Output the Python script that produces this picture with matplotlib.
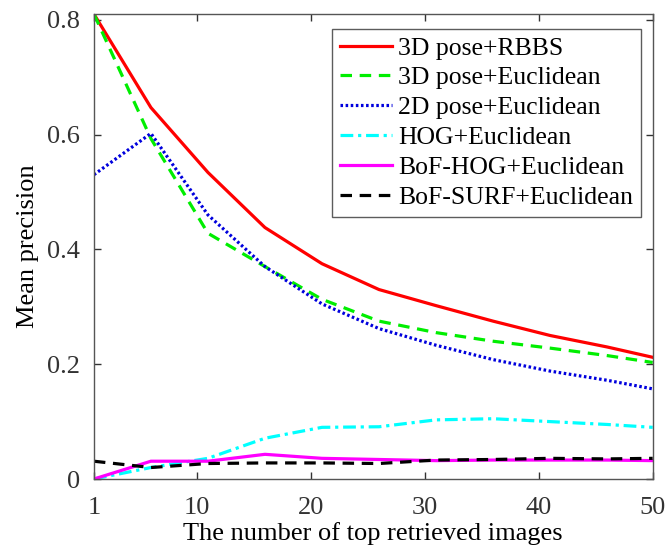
import matplotlib
matplotlib.use("Agg")
import matplotlib.pyplot as plt

x = [1, 6, 11, 16, 21, 26, 31, 36, 41, 46, 50]
rbbs3d = [0.810, 0.647, 0.534, 0.438, 0.375, 0.330, 0.302, 0.275, 0.250, 0.230, 0.212]
euc3d = [0.810, 0.593, 0.428, 0.370, 0.313, 0.275, 0.255, 0.240, 0.228, 0.215, 0.203]
euc2d = [0.530, 0.602, 0.460, 0.370, 0.305, 0.262, 0.233, 0.208, 0.188, 0.172, 0.157]
hog = [0.000, 0.020, 0.036, 0.071, 0.090, 0.091, 0.103, 0.105, 0.100, 0.095, 0.090]
bofhog = [0.000, 0.031, 0.031, 0.043, 0.036, 0.034, 0.032, 0.033, 0.033, 0.033, 0.032]
bofsurf = [0.031, 0.020, 0.027, 0.028, 0.028, 0.027, 0.033, 0.034, 0.036, 0.035, 0.036]

labels = ["3D pose+RBBS", "3D pose+Euclidean", "2D pose+Euclidean",
          "HOG+Euclidean", "BoF-HOG+Euclidean", "BoF-SURF+Euclidean"]
xticks = [1, 10, 20, 30, 40, 50]
yticks = [0, 0.2, 0.4, 0.6, 0.8]

plt.rcParams['font.family'] = ['Liberation Serif', 'DejaVu Serif']

fig = plt.figure(figsize=(6.66, 5.46), dpi=100)
ax = fig.add_axes([0.141, 0.1227, 0.839, 0.8517])

ax.plot(x, rbbs3d, color='#ff0000', lw=2.3, ls='-', label=labels[0])
ax.plot(x, euc3d, color='#00ee00', lw=2.3, ls=(0, (3.6, 2.4)), label=labels[1])
ax.plot(x, euc2d, color='#0000dd', lw=2.3, ls=(0, (0.8, 0.8)), label=labels[2])
ax.plot(x, hog, color='#00ffff', lw=2.3, ls=(0, (4, 1.5, 1, 1.5)), label=labels[3])
ax.plot(x, bofhog, color='#ff00ff', lw=2.3, ls='-', label=labels[4])
ax.plot(x, bofsurf, color='black', lw=2.3, ls=(0, (3.6, 2.4)), label=labels[5])

ax.set_xlim(1, 50)
ax.set_ylim(0, 0.81)
ax.set_xticks(xticks)
ax.set_xticklabels([str(v) for v in xticks])
ax.set_yticks(yticks)
ax.set_yticklabels(['0', '0.2', '0.4', '0.6', '0.8'])
ax.tick_params(direction='in', top=True, right=True, length=5, width=1,
               labelsize=19, colors='#333333')
ax.tick_params(axis='x', pad=13)
ax.tick_params(axis='y', pad=10)
for s in ax.spines.values():
    s.set_color('#555555')
    s.set_linewidth(1)

ax.set_xlabel('The number of top retrieved images', fontsize=19, labelpad=2)
ax.set_ylabel('Mean precision', fontsize=19, labelpad=6)

leg = ax.legend(loc='upper right', bbox_to_anchor=(0.9785, 0.968), fontsize=18.5,
                frameon=True, fancybox=False, handlelength=2.0, handletextpad=0.25,
                borderpad=0.3, labelspacing=0.27, borderaxespad=0)
leg.get_frame().set_edgecolor('#333333')
leg.get_frame().set_linewidth(1)

fig.savefig('out.png', dpi=100)
